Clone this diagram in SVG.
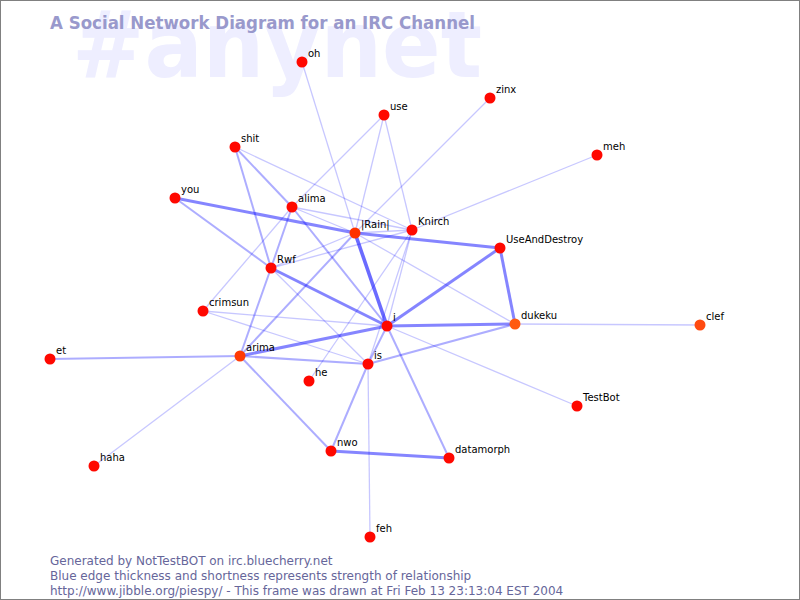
<svg xmlns="http://www.w3.org/2000/svg" width="800" height="600" viewBox="0 0 800 600">
<style>
.wm{font-family:"DejaVu Sans","Liberation Sans",sans-serif;font-weight:bold;font-size:92px;fill:#eeeeff}
.title{font-family:"DejaVu Sans","Liberation Sans",sans-serif;font-weight:bold;font-size:17px;fill:#9999cc}
.foot{font-family:"DejaVu Sans","Liberation Sans",sans-serif;font-size:12px;fill:#66669a}
.lbl{font-family:"DejaVu Sans","Liberation Sans",sans-serif;font-size:10px;fill:#000}
.e1{stroke:#0000ff;stroke-opacity:0.22;stroke-width:1.3;fill:none}
.e2{stroke:#0000ff;stroke-opacity:0.32;stroke-width:2;fill:none}
.e3{stroke:#0000ff;stroke-opacity:0.48;stroke-width:3;fill:none}
.e4{stroke:#0000ff;stroke-opacity:0.58;stroke-width:3.6;fill:none}
.n{fill:#ff0800}
</style>
<rect x="0" y="0" width="800" height="600" fill="#ffffff"/>
<rect x="0.5" y="0.5" width="799" height="599" fill="none" stroke="#808080"/>
<text class="wm" x="72" y="77" textLength="410" lengthAdjust="spacingAndGlyphs">#anynet</text>
<text class="title" x="50" y="29" textLength="425" lengthAdjust="spacingAndGlyphs">A Social Network Diagram for an IRC Channel</text>
<g id="connectors">
<line class="e1" x1="302" y1="62" x2="355" y2="233"/>
<line class="e1" x1="490" y1="98" x2="355" y2="233"/>
<line class="e1" x1="597" y1="155" x2="412" y2="230"/>
<line class="e1" x1="384" y1="115" x2="292" y2="207"/>
<line class="e1" x1="292" y1="207" x2="203" y2="311"/>
<line class="e1" x1="384" y1="115" x2="355" y2="233"/>
<line class="e1" x1="384" y1="115" x2="412" y2="230"/>
<line class="e1" x1="309" y1="381" x2="412" y2="230"/>
<line class="e1" x1="355" y1="233" x2="412" y2="230"/>
<line class="e1" x1="235" y1="147" x2="412" y2="230"/>
<line class="e1" x1="292" y1="207" x2="355" y2="233"/>
<line class="e1" x1="292" y1="207" x2="412" y2="230"/>
<line class="e1" x1="271" y1="268" x2="355" y2="233"/>
<line class="e1" x1="271" y1="268" x2="412" y2="230"/>
<line class="e1" x1="271" y1="268" x2="368" y2="364"/>
<line class="e1" x1="203" y1="311" x2="387" y2="326"/>
<line class="e1" x1="203" y1="311" x2="368" y2="364"/>
<line class="e1" x1="412" y1="230" x2="387" y2="326"/>
<line class="e1" x1="412" y1="230" x2="368" y2="364"/>
<line class="e1" x1="387" y1="326" x2="577" y2="406"/>
<line class="e1" x1="368" y1="364" x2="370" y2="537"/>
<line class="e1" x1="515" y1="324" x2="700" y2="325"/>
<line class="e1" x1="355" y1="233" x2="515" y2="324"/>
<line class="e1" x1="240" y1="356" x2="94" y2="466"/>
<line class="e2" x1="50" y1="359" x2="240" y2="356"/>
<line class="e2" x1="235" y1="147" x2="271" y2="268"/>
<line class="e2" x1="235" y1="147" x2="292" y2="207"/>
<line class="e2" x1="292" y1="207" x2="271" y2="268"/>
<line class="e2" x1="292" y1="207" x2="387" y2="326"/>
<line class="e2" x1="175" y1="198" x2="271" y2="268"/>
<line class="e2" x1="271" y1="268" x2="240" y2="356"/>
<line class="e2" x1="240" y1="356" x2="355" y2="233"/>
<line class="e2" x1="240" y1="356" x2="368" y2="364"/>
<line class="e2" x1="240" y1="356" x2="331" y2="451"/>
<line class="e2" x1="368" y1="364" x2="331" y2="451"/>
<line class="e2" x1="368" y1="364" x2="515" y2="324"/>
<line class="e2" x1="387" y1="326" x2="449" y2="458"/>
<line class="e2" x1="387" y1="326" x2="368" y2="364"/>
<line class="e3" x1="175" y1="198" x2="355" y2="233"/>
<line class="e3" x1="331" y1="451" x2="449" y2="458"/>
<line class="e3" x1="355" y1="233" x2="500" y2="248"/>
<line class="e3" x1="500" y1="248" x2="515" y2="324"/>
<line class="e3" x1="271" y1="268" x2="387" y2="326"/>
<line class="e3" x1="240" y1="356" x2="387" y2="326"/>
<line class="e3" x1="387" y1="326" x2="515" y2="324"/>
<line class="e3" x1="387" y1="326" x2="500" y2="248"/>
<line class="e4" x1="355" y1="233" x2="387" y2="326"/>
</g>
<g id="node-oh"><circle class="n" cx="302" cy="62" r="5.5"/><text class="lbl" x="308" y="57">oh</text></g>
<g id="node-zinx"><circle class="n" cx="490" cy="98" r="5.5"/><text class="lbl" x="496" y="93">zinx</text></g>
<g id="node-use"><circle class="n" cx="384" cy="115" r="5.5"/><text class="lbl" x="390" y="110">use</text></g>
<g id="node-shit"><circle class="n" cx="235" cy="147" r="5.5"/><text class="lbl" x="241" y="142">shit</text></g>
<g id="node-meh"><circle class="n" cx="597" cy="155" r="5.5"/><text class="lbl" x="603" y="150">meh</text></g>
<g id="node-you"><circle class="n" cx="175" cy="198" r="5.5"/><text class="lbl" x="181" y="193">you</text></g>
<g id="node-alima"><circle class="n" cx="292" cy="207" r="5.5"/><text class="lbl" x="298" y="202">alima</text></g>
<g id="node-rain"><circle cx="355" cy="233" r="5.5" fill="#ff3200"/><text class="lbl" x="361" y="228">|Rain|</text></g>
<g id="node-knirch"><circle class="n" cx="412" cy="230" r="5.5"/><text class="lbl" x="418" y="225">Knirch</text></g>
<g id="node-useanddestroy"><circle class="n" cx="500" cy="248" r="5.5"/><text class="lbl" x="506" y="243">UseAndDestroy</text></g>
<g id="node-rwf"><circle class="n" cx="271" cy="268" r="5.5"/><text class="lbl" x="277" y="263">Rwf</text></g>
<g id="node-crimsun"><circle class="n" cx="203" cy="311" r="5.5"/><text class="lbl" x="209" y="306">crimsun</text></g>
<g id="node-i"><circle class="n" cx="387" cy="326" r="5.5"/><text class="lbl" x="393" y="321">i</text></g>
<g id="node-dukeku"><circle cx="515" cy="324" r="5.5" fill="#ff5a10"/><text class="lbl" x="521" y="319">dukeku</text></g>
<g id="node-clef"><circle cx="700" cy="325" r="5.5" fill="#ff4a10"/><text class="lbl" x="706" y="320">clef</text></g>
<g id="node-et"><circle class="n" cx="50" cy="359" r="5.5"/><text class="lbl" x="56" y="354">et</text></g>
<g id="node-arima"><circle cx="240" cy="356" r="5.5" fill="#ff3a05"/><text class="lbl" x="246" y="351">arima</text></g>
<g id="node-is"><circle class="n" cx="368" cy="364" r="5.5"/><text class="lbl" x="374" y="359">is</text></g>
<g id="node-he"><circle class="n" cx="309" cy="381" r="5.5"/><text class="lbl" x="315" y="376">he</text></g>
<g id="node-testbot"><circle class="n" cx="577" cy="406" r="5.5"/><text class="lbl" x="583" y="401">TestBot</text></g>
<g id="node-nwo"><circle class="n" cx="331" cy="451" r="5.5"/><text class="lbl" x="337" y="446">nwo</text></g>
<g id="node-datamorph"><circle class="n" cx="449" cy="458" r="5.5"/><text class="lbl" x="455" y="453">datamorph</text></g>
<g id="node-haha"><circle class="n" cx="94" cy="466" r="5.5"/><text class="lbl" x="100" y="461">haha</text></g>
<g id="node-feh"><circle class="n" cx="370" cy="537" r="5.5"/><text class="lbl" x="376" y="532">feh</text></g>
<text class="foot" x="50" y="565">Generated by NotTestBOT on irc.bluecherry.net</text>
<text class="foot" x="50" y="580">Blue edge thickness and shortness represents strength of relationship</text>
<text class="foot" x="50" y="595">http://www.jibble.org/piespy/ - This frame was drawn at Fri Feb 13 23:13:04 EST 2004</text>
</svg>
